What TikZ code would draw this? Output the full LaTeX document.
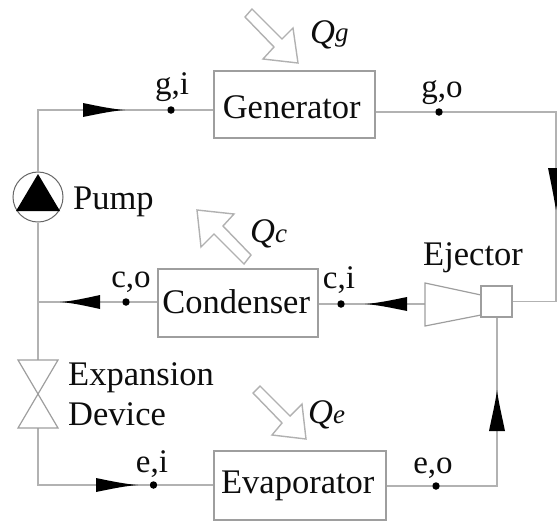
\documentclass[tikz,border=0pt]{standalone}
\usepackage{fontspec}
\setmainfont{Liberation Serif}
\newcommand{\bigsize}{\fontsize{34.5}{38}\selectfont}
\newcommand{\labsize}{\fontsize{33}{36}\selectfont}
\newcommand{\subsize}{\fontsize{27}{30}\selectfont}
\definecolor{linegray}{gray}{0.70}
\definecolor{boxgray}{gray}{0.62}
\definecolor{inkblack}{gray}{0.05}
\tikzset{
  pipe/.style={draw=linegray,line width=1.7pt,line join=miter},
  unit/.style={draw=boxgray,line width=1.5pt,inner sep=0pt,anchor=north west,align=center,font=\bigsize,text=inkblack},
  statept/.style={circle,fill=black,inner sep=0pt,minimum size=7.5pt},
  statelab/.style={inner sep=0pt,anchor=base,font=\labsize,text=inkblack},
  devlab/.style={inner sep=0pt,anchor=base west,font=\bigsize,text=inkblack},
  heatlab/.style={inner sep=0pt,anchor=base west,font=\bigsize\itshape,text=inkblack},
  flowtip/.style={fill=black},
  heatarrow/.style={draw=boxgray!80,line width=1.4pt,fill=white,line join=miter},
  thinpart/.style={draw=boxgray,line width=1.2pt,line join=miter}
}
\begin{document}
\begin{tikzpicture}[x=1pt,y=-1pt]
\useasboundingbox (0,0) rectangle (557,523);
\clip (0,0) rectangle (557,523);
% units
\node[unit,minimum width=161pt,text height=48pt,text depth=19pt] (gen) at (213,70) {Generator\hspace*{5pt}};
\node[unit,minimum width=160pt,text height=45pt,text depth=23pt] (con) at (157,268) {Condenser\hspace*{3pt}};
\node[unit,minimum width=172pt,text height=43pt,text depth=26pt] (eva) at (213,450) {Evaporator\hspace*{4pt}};
\node[draw=boxgray,line width=1.2pt,inner sep=0pt,minimum size=31pt] (mix) at (496.5,301.5) {};
\node[draw=black!60,line width=1pt,circle,inner sep=0pt,minimum size=50pt] (pump) at (38,197) {};
% state points
\node[statept] (gi) at (171,110) {};
\node[statept] (go) at (439,112) {};
\node[statept] (ci) at (341,304) {};
\node[statept] (co) at (126,302) {};
\node[statept] (ei) at (153.5,485) {};
\node[statept] (eo) at (436,486) {};
% junctions
\coordinate (tl) at (38,110);
\coordinate (tr) at (556,112);
\coordinate (br) at (497,486);
\coordinate (bl) at (38,485);
\coordinate (vtop) at (38,360);
\coordinate (vmid) at (38,394);
\coordinate (vbot) at (38,428);
\coordinate (join) at (38,302);
\coordinate (conein) at (425,304);
% pipes
\draw[pipe] (pump.north) -- (tl) -- (gi) -- (gen.west |- gi);
\draw[pipe] (gen.east |- go) -- (go) -- (tr) -- (tr |- mix.east) -- (mix.east);
\draw[pipe] (conein) -- (ci) -- (con.east |- ci);
\draw[pipe] (con.west |- co) -- (co) -- (join);
\draw[pipe] (pump.south) -- (vtop);
\draw[pipe] (vbot) -- (bl) -- (ei) -- (eva.west |- ei);
\draw[pipe] (eva.east |- eo) -- (eo) -- (br) -- (br |- mix.south);
% ejector cone
\draw[thinpart] (conein |- 0,283) -- (481,295) -- (481,315) -- (425,326) -- cycle;
% expansion device
\draw[thinpart] (18,360) -- (58,360) -- (vmid) -- (58,428) -- (18,428) -- (vmid) -- cycle;
% pump triangle
\fill[flowtip] (38,174) -- (60,211) -- (16,211) -- cycle;
% flow arrowheads
\fill[flowtip] (83,103) .. controls (100,106.5) and (112,109) .. (125,110) .. controls (112,111) and (100,113.5) .. (83,117) -- cycle;
\fill[flowtip] (548,168) .. controls (551.5,185) and (554,198) .. (556,210) .. controls (558,198) and (560.5,185) .. (564,168) -- cycle;
\fill[flowtip] (407,297) .. controls (390,300.5) and (378,303) .. (365,304) .. controls (378,305) and (390,307.5) .. (407,311) -- cycle;
\fill[flowtip] (100,295) .. controls (84,298.5) and (73,301) .. (60,302) .. controls (73,303) and (84,305.5) .. (100,309) -- cycle;
\fill[flowtip] (96,478) .. controls (113,481.5) and (125,484) .. (138,485) .. controls (125,486) and (113,488.5) .. (96,492) -- cycle;
\fill[flowtip] (489,431) .. controls (492.5,414) and (495.5,402) .. (497,390) .. controls (498.5,402) and (501.5,414) .. (505,431) -- cycle;
% heat arrows
\draw[heatarrow] (245,17) -- (252,9) -- (282,39) -- (293,28) -- (298,63) -- (263,59) -- (274,47) -- cycle;
\draw[heatarrow] (197,210) -- (234,214) -- (223,226) -- (251,255) -- (244,264) -- (214,234) -- (201,247) -- cycle;
\draw[heatarrow] (253,393) -- (260,386) -- (290,416) -- (302,404) -- (306,439) -- (272,435) -- (282,423) -- cycle;
% labels
\node[statelab] (lgi) at (172,94) {g,i};
\node[statelab] (lgo) at (442,97) {g,o};
\node[statelab] (lci) at (339,288) {c,i};
\node[statelab] (lco) at (131,287) {c,o};
\node[statelab] (lei) at (152,472) {e,i};
\node[statelab] (leo) at (433,473) {e,o};
\node[devlab] (lpump) at (73,209) {Pump};
\node[devlab] (lej) at (423,265) {Ejector};
\node[devlab] (lexp) at (68,385) {Expansion};
\node[devlab] (ldev) at (68,425) {Device};
\node[heatlab] (qg) at (310,43) {Q\raisebox{2pt}{\subsize g}};
\node[heatlab] (qc) at (250,242) {Q\subsize c};
\node[heatlab] (qe) at (308,423) {Q\subsize e};
\end{tikzpicture}
\end{document}
